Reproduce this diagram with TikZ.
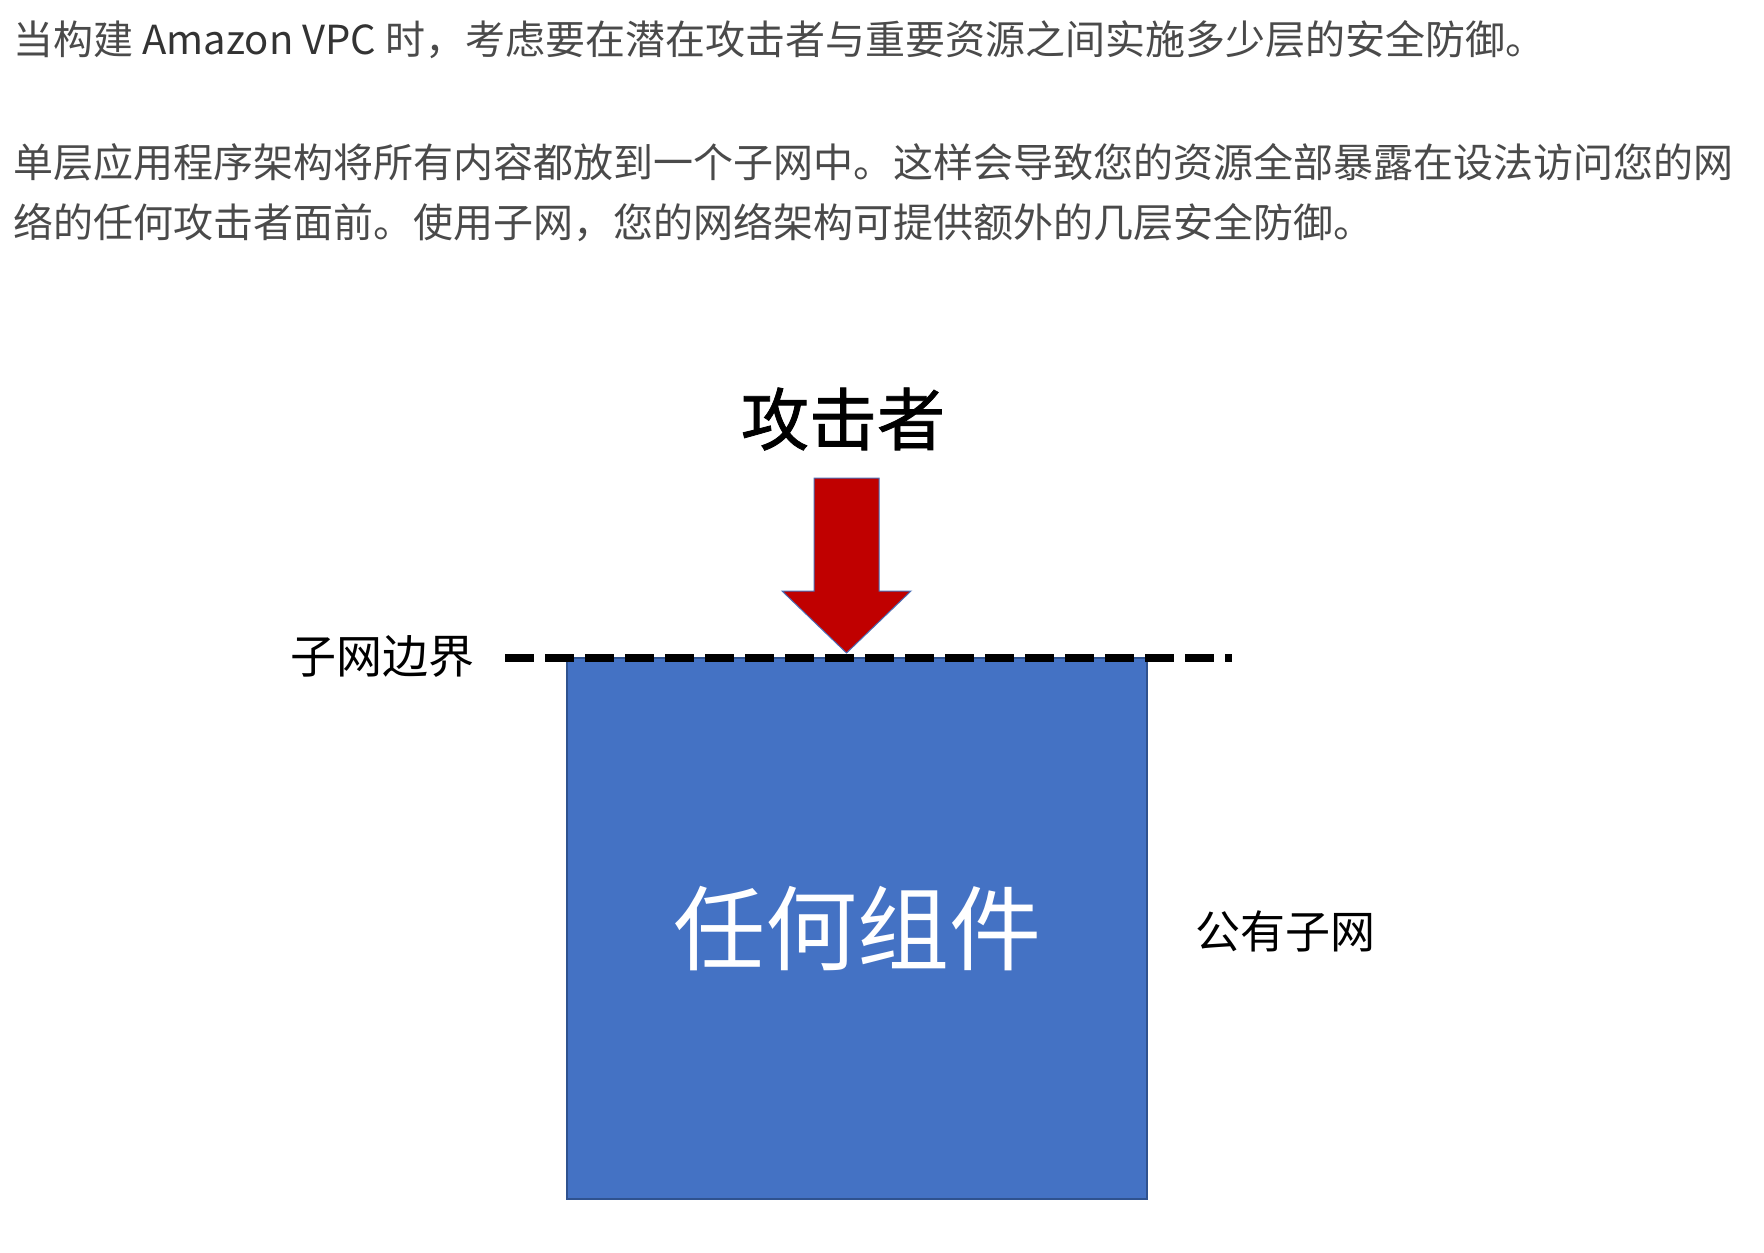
\documentclass[tikz,border=0pt]{standalone}
\usepackage{fontspec}
\setmainfont{Noto Sans CJK SC}
\newfontfamily\cjk{Noto Sans CJK SC}
\newfontfamily\cjkmed[FakeBold=1.2]{Noto Sans CJK SC}
\definecolor{bodytext}{HTML}{4A4A4A}
\definecolor{arrowred}{HTML}{C00000}
\definecolor{arrowedge}{HTML}{4A6FB8}
\definecolor{boxblue}{HTML}{4472C4}
\definecolor{boxedge}{HTML}{2F528F}
\tikzset{
  para/.style={anchor=base west, inner sep=0pt, text=bodytext, font=\cjk\fontsize{20pt}{24pt}\selectfont},
  lbl/.style={inner sep=0pt, text=black, font=\cjk\fontsize{#1}{#1}\selectfont},
  boundary/.style={line width=4pt, dash pattern=on 14.4pt off 5.6pt, black},
}
\begin{document}
\begin{tikzpicture}[x=0.5pt,y=-0.5pt]
\useasboundingbox (0,0) rectangle (1764,1252);
\fill[white] (0,0) rectangle (1764,1252);
% paragraph text
\node[para] (t1) at (13,55) {当构建 {\color{black!80}Amazon VPC} 时，考虑要在潜在攻击者与重要资源之间实施多少层的安全防御。};
\node[para] (t2) at (13,177) {单层应用程序架构将所有内容都放到一个子网中。这样会导致您的资源全部暴露在设法访问您的网};
\node[para] (t3) at (13,237) {络的任何攻击者面前。使用子网，您的网络架构可提供额外的几层安全防御。};
% subnet box
\node[draw=boxedge, fill=boxblue, line width=0.75pt, minimum width=290pt, minimum height=270.5pt, inner sep=0pt,
      text=white, font=\cjk\fontsize{46pt}{46pt}\selectfont] (box) at (857,928.5) {任何组件};
% subnet boundary
\coordinate (bl) at (505,658);
\coordinate (br) at (1232,658);
\draw[boundary] (bl) -- (br);
% attacker arrow
\fill[arrowred, draw=arrowedge, line width=0.5pt]
  (814,478) -- (879,478) -- (879,591) -- (911,591) -- (846.5,653) -- (782,591) -- (814,591) -- cycle;
% labels
\node[inner sep=0pt, text=black, font=\cjkmed\fontsize{34pt}{34pt}\selectfont] (att) at (843,419) {攻击者};
\node[lbl=23pt] (sb) at (382,656) {子网边界};
\node[lbl=22.5pt] (pub) at (1285,931) {公有子网};
\end{tikzpicture}
\end{document}
